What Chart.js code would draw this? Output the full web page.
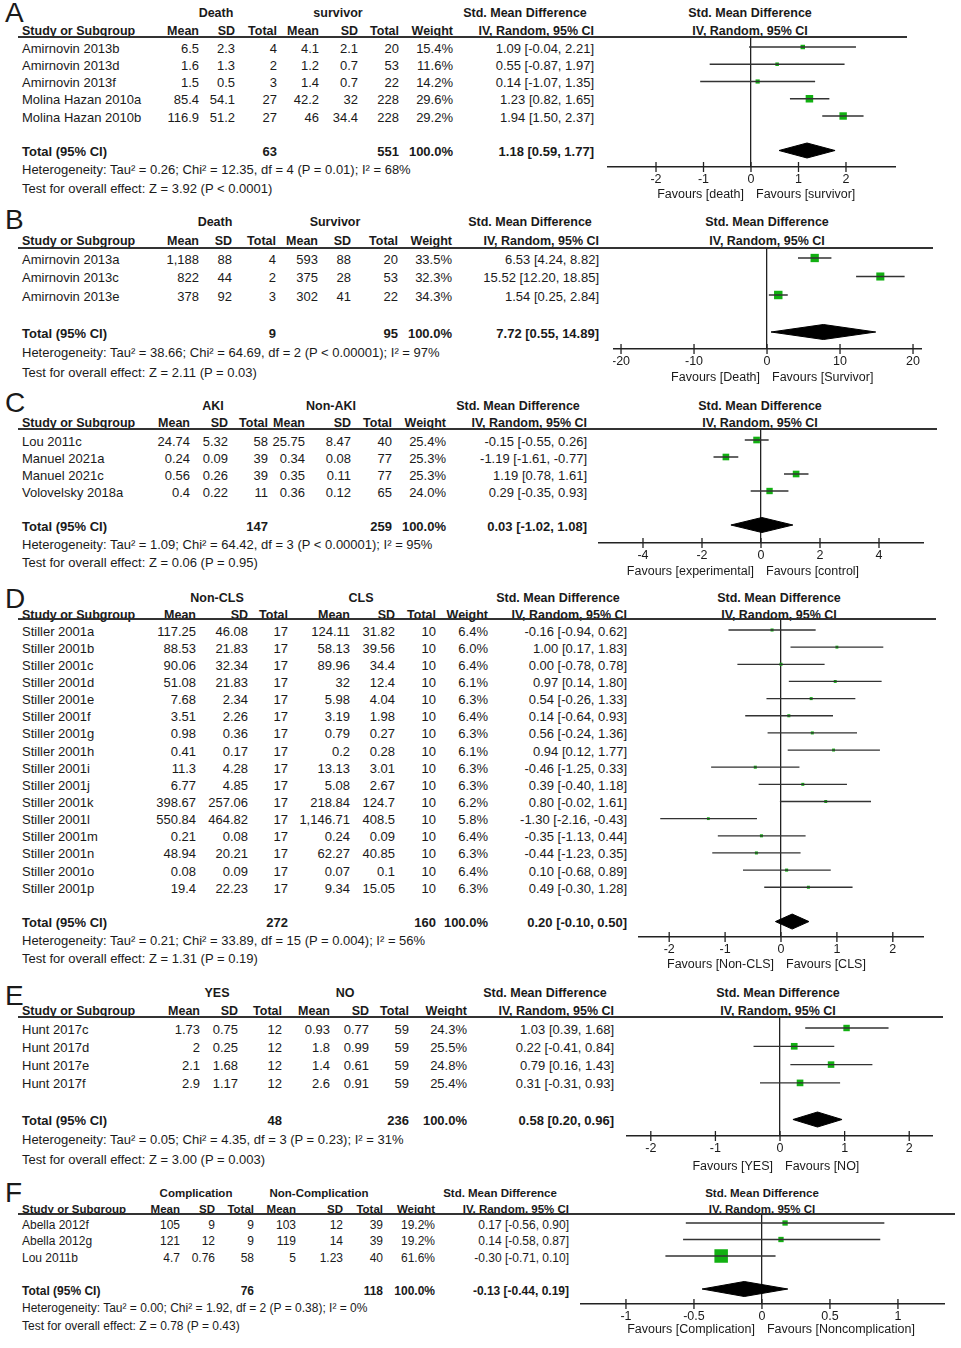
<!DOCTYPE html>
<html>
<head>
<meta charset="utf-8">
<script src="https://cdn.jsdelivr.net/npm/chart.js@4.4.1/dist/chart.umd.min.js"></script>
<style>
  html, body { margin: 0; padding: 0; background: #fff; }
  #page { position: relative; width: 961px; height: 1348px; overflow: hidden;
          font-family: "Liberation Sans", Arial, sans-serif; color: #1a1a1a; }
  .t { position: absolute; white-space: nowrap; line-height: 20px; }
  .b { font-weight: bold; }
  .rule { position: absolute; height: 2px; background: #333; }
  canvas { position: absolute; }
</style>
</head>
<body>
<div id="page"></div>
<script>
// ---------- A: death vs survivor
const aStudies = ['Amirnovin 2013b', 'Amirnovin 2013d', 'Amirnovin 2013f', 'Molina Hazan 2010a', 'Molina Hazan 2010b'];
const aGroups = ['Death', 'survivor'];
const aMean1 = [6.5, 1.6, 1.5, 85.4, 116.9];
const aSd1 = [2.3, 1.3, 0.5, 54.1, 51.2];
const aN1 = [4, 2, 3, 27, 27];
const aMean2 = [4.1, 1.2, 1.4, 42.2, 46];
const aSd2 = [2.1, 0.7, 0.7, 32, 34.4];
const aN2 = [20, 53, 22, 228, 228];
const aWeight = [15.4, 11.6, 14.2, 29.6, 29.2];
const aSmd = [1.09, 0.55, 0.14, 1.23, 1.94];
const aLo = [-0.04, -0.87, -1.07, 0.82, 1.50];
const aHi = [2.21, 1.97, 1.35, 1.65, 2.37];
const aTotal = [1.18, 0.59, 1.77];
const aTotalN = [63, 551];
const aTicks = [-2, -1, 0, 1, 2];
const aFavours = ['Favours [death]', 'Favours [survivor]'];
const aHet = 'Heterogeneity: Tau² = 0.26; Chi² = 12.35, df = 4 (P = 0.01); I² = 68%';
const aTest = 'Test for overall effect: Z = 3.92 (P < 0.0001)';

// ---------- B: Death vs Survivor
const bStudies = ['Amirnovin 2013a', 'Amirnovin 2013c', 'Amirnovin 2013e'];
const bGroups = ['Death', 'Survivor'];
const bMean1 = [1188, 822, 378];
const bSd1 = [88, 44, 92];
const bN1 = [4, 2, 3];
const bMean2 = [593, 375, 302];
const bSd2 = [88, 28, 41];
const bN2 = [20, 53, 22];
const bWeight = [33.5, 32.3, 34.3];
const bSmd = [6.53, 15.52, 1.54];
const bLo = [4.24, 12.20, 0.25];
const bHi = [8.82, 18.85, 2.84];
const bTotal = [7.72, 0.55, 14.89];
const bTotalN = [9, 95];
const bTicks = [-20, -10, 0, 10, 20];
const bFavours = ['Favours [Death]', 'Favours [Survivor]'];
const bHet = 'Heterogeneity: Tau² = 38.66; Chi² = 64.69, df = 2 (P < 0.00001); I² = 97%';
const bTest = 'Test for overall effect: Z = 2.11 (P = 0.03)';

// ---------- C: AKI vs Non-AKI
const cStudies = ['Lou 2011c', 'Manuel 2021a', 'Manuel 2021c', 'Volovelsky 2018a'];
const cGroups = ['AKI', 'Non-AKI'];
const cMean1 = [24.74, 0.24, 0.56, 0.4];
const cSd1 = [5.32, 0.09, 0.26, 0.22];
const cN1 = [58, 39, 39, 11];
const cMean2 = [25.75, 0.34, 0.35, 0.36];
const cSd2 = [8.47, 0.08, 0.11, 0.12];
const cN2 = [40, 77, 77, 65];
const cWeight = [25.4, 25.3, 25.3, 24.0];
const cSmd = [-0.15, -1.19, 1.19, 0.29];
const cLo = [-0.55, -1.61, 0.78, -0.35];
const cHi = [0.26, -0.77, 1.61, 0.93];
const cTotal = [0.03, -1.02, 1.08];
const cTotalN = [147, 259];
const cTicks = [-4, -2, 0, 2, 4];
const cFavours = ['Favours [experimental]', 'Favours [control]'];
const cHet = 'Heterogeneity: Tau² = 1.09; Chi² = 64.42, df = 3 (P < 0.00001); I² = 95%';
const cTest = 'Test for overall effect: Z = 0.06 (P = 0.95)';

// ---------- D: Non-CLS vs CLS
const dStudies = ['Stiller 2001a', 'Stiller 2001b', 'Stiller 2001c', 'Stiller 2001d', 'Stiller 2001e', 'Stiller 2001f',
  'Stiller 2001g', 'Stiller 2001h', 'Stiller 2001i', 'Stiller 2001j', 'Stiller 2001k', 'Stiller 2001l',
  'Stiller 2001m', 'Stiller 2001n', 'Stiller 2001o', 'Stiller 2001p'];
const dGroups = ['Non-CLS', 'CLS'];
const dMean1 = [117.25, 88.53, 90.06, 51.08, 7.68, 3.51, 0.98, 0.41, 11.3, 6.77, 398.67, 550.84, 0.21, 48.94, 0.08, 19.4];
const dSd1 = [46.08, 21.83, 32.34, 21.83, 2.34, 2.26, 0.36, 0.17, 4.28, 4.85, 257.06, 464.82, 0.08, 20.21, 0.09, 22.23];
const dN1 = [17, 17, 17, 17, 17, 17, 17, 17, 17, 17, 17, 17, 17, 17, 17, 17];
const dMean2 = [124.11, 58.13, 89.96, 32, 5.98, 3.19, 0.79, 0.2, 13.13, 5.08, 218.84, 1146.71, 0.24, 62.27, 0.07, 9.34];
const dSd2 = [31.82, 39.56, 34.4, 12.4, 4.04, 1.98, 0.27, 0.28, 3.01, 2.67, 124.7, 408.5, 0.09, 40.85, 0.1, 15.05];
const dN2 = [10, 10, 10, 10, 10, 10, 10, 10, 10, 10, 10, 10, 10, 10, 10, 10];
const dWeight = [6.4, 6.0, 6.4, 6.1, 6.3, 6.4, 6.3, 6.1, 6.3, 6.3, 6.2, 5.8, 6.4, 6.3, 6.4, 6.3];
const dSmd = [-0.16, 1.00, 0.00, 0.97, 0.54, 0.14, 0.56, 0.94, -0.46, 0.39, 0.80, -1.30, -0.35, -0.44, 0.10, 0.49];
const dLo = [-0.94, 0.17, -0.78, 0.14, -0.26, -0.64, -0.24, 0.12, -1.25, -0.40, -0.02, -2.16, -1.13, -1.23, -0.68, -0.30];
const dHi = [0.62, 1.83, 0.78, 1.80, 1.33, 0.93, 1.36, 1.77, 0.33, 1.18, 1.61, -0.43, 0.44, 0.35, 0.89, 1.28];
const dTotal = [0.20, -0.10, 0.50];
const dTotalN = [272, 160];
const dTicks = [-2, -1, 0, 1, 2];
const dFavours = ['Favours [Non-CLS]', 'Favours [CLS]'];
const dHet = 'Heterogeneity: Tau² = 0.21; Chi² = 33.89, df = 15 (P = 0.004); I² = 56%';
const dTest = 'Test for overall effect: Z = 1.31 (P = 0.19)';

// ---------- E: YES vs NO
const eStudies = ['Hunt 2017c', 'Hunt 2017d', 'Hunt 2017e', 'Hunt 2017f'];
const eGroups = ['YES', 'NO'];
const eMean1 = [1.73, 2, 2.1, 2.9];
const eSd1 = [0.75, 0.25, 1.68, 1.17];
const eN1 = [12, 12, 12, 12];
const eMean2 = [0.93, 1.8, 1.4, 2.6];
const eSd2 = [0.77, 0.99, 0.61, 0.91];
const eN2 = [59, 59, 59, 59];
const eWeight = [24.3, 25.5, 24.8, 25.4];
const eSmd = [1.03, 0.22, 0.79, 0.31];
const eLo = [0.39, -0.41, 0.16, -0.31];
const eHi = [1.68, 0.84, 1.43, 0.93];
const eTotal = [0.58, 0.20, 0.96];
const eTotalN = [48, 236];
const eTicks = [-2, -1, 0, 1, 2];
const eFavours = ['Favours [YES]', 'Favours [NO]'];
const eHet = 'Heterogeneity: Tau² = 0.05; Chi² = 4.35, df = 3 (P = 0.23); I² = 31%';
const eTest = 'Test for overall effect: Z = 3.00 (P = 0.003)';

// ---------- F: Complication vs Non-Complication
const fStudies = ['Abella 2012f', 'Abella 2012g', 'Lou 2011b'];
const fGroups = ['Complication', 'Non-Complication'];
const fMean1 = [105, 121, 4.7];
const fSd1 = [9, 12, 0.76];
const fN1 = [9, 9, 58];
const fMean2 = [103, 119, 5];
const fSd2 = [12, 14, 1.23];
const fN2 = [39, 39, 40];
const fWeight = [19.2, 19.2, 61.6];
const fSmd = [0.17, 0.14, -0.30];
const fLo = [-0.56, -0.58, -0.71];
const fHi = [0.90, 0.87, 0.10];
const fTotal = [-0.13, -0.44, 0.19];
const fTotalN = [76, 118];
const fTicks = [-1, -0.5, 0, 0.5, 1];
const fFavours = ['Favours [Complication]', 'Favours [Noncomplication]'];
const fHet = 'Heterogeneity: Tau² = 0.00; Chi² = 1.92, df = 2 (P = 0.38); I² = 0%';
const fTest = 'Test for overall effect: Z = 0.78 (P = 0.43)';

const GREEN = '#12b012';
const INK = '#1a1a1a';
const page = document.getElementById('page');

// layout of each panel (pixel positions only)
const panels = [
  { letter: 'A', studies: aStudies, groups: aGroups, m1: aMean1, sd1: aSd1, n1: aN1, m2: aMean2, sd2: aSd2, n2: aN2,
    w: aWeight, smd: aSmd, lo: aLo, hi: aHi, total: aTotal, totN: aTotalN, ticks: aTicks, fav: aFavours, het: aHet, test: aTest,
    lay: { letterY: 13, hdr: [13, 31], lineY: 37, lineEnd: 907, row0: 47, step: 17.25, axisY: 167, favY: 195,
           cols: [199, 235, 277, 319, 358, 399, 453, 594], grp: [216, 338], plot: [607, 896], xr: [-3.032, 3.053],
           hdrX: 750, font: 13, box: 0.5 } },
  { letter: 'B', studies: bStudies, groups: bGroups, m1: bMean1, sd1: bSd1, n1: bN1, m2: bMean2, sd2: bSd2, n2: bN2,
    w: bWeight, smd: bSmd, lo: bLo, hi: bHi, total: bTotal, totN: bTotalN, ticks: bTicks, fav: bFavours, het: bHet, test: bTest,
    lay: { letterY: 220, hdr: [222, 241], lineY: 248, lineEnd: 933, row0: 258, step: 18.5, axisY: 349, favY: 378,
           cols: [199, 232, 276, 318, 351, 398, 452, 599], grp: [215, 335], plot: [613, 922], xr: [-21.1, 21.23],
           hdrX: 767, font: 13, box: 0.5 } },
  { letter: 'C', studies: cStudies, groups: cGroups, m1: cMean1, sd1: cSd1, n1: cN1, m2: cMean2, sd2: cSd2, n2: cN2,
    w: cWeight, smd: cSmd, lo: cLo, hi: cHi, total: cTotal, totN: cTotalN, ticks: cTicks, fav: cFavours, het: cHet, test: cTest,
    lay: { letterY: 403, hdr: [406, 423], lineY: 429, lineEnd: 937, row0: 440, step: 17, axisY: 543, favY: 572,
           cols: [190, 228, 268, 305, 351, 392, 446, 587], grp: [213, 331], plot: [598, 924], xr: [-5.525, 5.525],
           hdrX: 760, font: 13, box: 0.5 } },
  { letter: 'D', studies: dStudies, groups: dGroups, m1: dMean1, sd1: dSd1, n1: dN1, m2: dMean2, sd2: dSd2, n2: dN2,
    w: dWeight, smd: dSmd, lo: dLo, hi: dHi, total: dTotal, totN: dTotalN, ticks: dTicks, fav: dFavours, het: dHet, test: dTest,
    lay: { letterY: 599, hdr: [598, 615], lineY: 619, lineEnd: 936, row0: 630, step: 17.15, axisY: 937, favY: 965,
           cols: [196, 248, 288, 350, 395, 436, 488, 627], grp: [217, 361], plot: [638, 924], xr: [-2.558, 2.558],
           hdrX: 779, font: 13, box: 0.69 } },
  { letter: 'E', studies: eStudies, groups: eGroups, m1: eMean1, sd1: eSd1, n1: eN1, m2: eMean2, sd2: eSd2, n2: eN2,
    w: eWeight, smd: eSmd, lo: eLo, hi: eHi, total: eTotal, totN: eTotalN, ticks: eTicks, fav: eFavours, het: eHet, test: eTest,
    lay: { letterY: 996, hdr: [993, 1011], lineY: 1017, lineEnd: 943, row0: 1028, step: 18.3, axisY: 1136, favY: 1167,
           cols: [200, 238, 282, 330, 369, 409, 467, 614], grp: [217, 345], plot: [626, 933], xr: [-2.384, 2.368],
           hdrX: 778, font: 13, box: 0.5 } },
  { letter: 'F', studies: fStudies, groups: fGroups, m1: fMean1, sd1: fSd1, n1: fN1, m2: fMean2, sd2: fSd2, n2: fN2,
    w: fWeight, smd: fSmd, lo: fLo, hi: fHi, total: fTotal, totN: fTotalN, ticks: fTicks, fav: fFavours, het: fHet, test: fTest,
    lay: { letterY: 1193, hdr: [1193, 1209], lineY: 1214, lineEnd: 955, row0: 1223, step: 16.5, axisY: 1304, favY: 1330,
           cols: [180, 215, 254, 296, 343, 383, 435, 569], grp: [196, 319], plot: [580, 945], xr: [-1.338, 1.346],
           hdrX: 762, font: 12, box: 0.5 } }
];

const fmt = v => v.toLocaleString('en-US', { maximumFractionDigits: 2 });
const ci = (e, l, h) => e.toFixed(2) + ' [' + l.toFixed(2) + ', ' + h.toFixed(2) + ']';

// put a text line with its vertical centre at y
function put(text, x, y, align, size, bold) {
  const el = document.createElement('div');
  el.className = 't' + (bold ? ' b' : '');
  el.textContent = text;
  el.style.fontSize = size + 'px';
  el.style.top = (y - 10) + 'px';
  if (align === 'left') {
    el.style.left = x + 'px';
  } else if (align === 'right') {
    el.style.left = (x - 400) + 'px'; el.style.width = '400px'; el.style.textAlign = 'right';
  } else {
    el.style.left = (x - 300) + 'px'; el.style.width = '600px'; el.style.textAlign = 'center';
  }
  page.appendChild(el);
}

function drawTable(p) {
  const L = p.lay, fs = L.font, hs = L.font - 0.5;
  put(p.letter, 5, L.letterY, 'left', 28, false);
  put(p.groups[0], L.grp[0], L.hdr[0], 'center', hs, true);
  put(p.groups[1], L.grp[1], L.hdr[0], 'center', hs, true);
  put('Std. Mean Difference', L.cols[7] - 69, L.hdr[0], 'center', hs, true);
  put('Std. Mean Difference', L.hdrX, L.hdr[0], 'center', hs, true);
  put('Study or Subgroup', 22, L.hdr[1], 'left', hs, true);
  const heads = ['Mean', 'SD', 'Total', 'Mean', 'SD', 'Total', 'Weight', 'IV, Random, 95% CI'];
  heads.forEach((h, i) => put(h, L.cols[i], L.hdr[1], 'right', hs, true));
  put('IV, Random, 95% CI', L.hdrX, L.hdr[1], 'center', hs, true);

  const rule = document.createElement('div');
  rule.className = 'rule';
  rule.style.left = '18px';
  rule.style.top = (L.lineY - 1) + 'px';
  rule.style.width = (L.lineEnd - 18) + 'px';
  page.appendChild(rule);

  const dy = 1.5;
  p.studies.forEach((s, i) => {
    const y = L.row0 + i * L.step + dy;
    put(s, 22, y, 'left', fs);
    const cells = [fmt(p.m1[i]), fmt(p.sd1[i]), p.n1[i], fmt(p.m2[i]), fmt(p.sd2[i]), p.n2[i],
                   p.w[i].toFixed(1) + '%', ci(p.smd[i], p.lo[i], p.hi[i])];
    cells.forEach((c, j) => put(String(c), L.cols[j], y, 'right', fs));
  });

  const ty = L.row0 + (p.studies.length + 1) * L.step + dy;
  put('Total (95% CI)', 22, ty, 'left', fs, true);
  put(String(p.totN[0]), L.cols[2], ty, 'right', fs, true);
  put(String(p.totN[1]), L.cols[5], ty, 'right', fs, true);
  put('100.0%', L.cols[6], ty, 'right', fs, true);
  put(ci(p.total[0], p.total[1], p.total[2]), L.cols[7], ty, 'right', fs, true);
  put(p.het, 22, ty + L.step + 1, 'left', fs);
  put(p.test, 22, ty + 2 * L.step + 2, 'left', fs);
}

// tick marks crossing the axis and the two "Favours" labels around zero
const forestDecor = {
  id: 'forestDecor',
  afterDraw(chart, args, opts) {
    const { ctx, chartArea } = chart;
    const x = chart.scales.x;
    const axisY = chartArea.bottom;
    ctx.save();
    ctx.strokeStyle = '#222';
    ctx.lineWidth = 1.3;
    x.ticks.forEach(t => {
      const px = x.getPixelForValue(t.value);
      ctx.beginPath();
      ctx.moveTo(px, axisY - 5);
      ctx.lineTo(px, axisY + 5);
      ctx.stroke();
    });
    const z = x.getPixelForValue(0);
    ctx.fillStyle = INK;
    ctx.font = '12.5px "Liberation Sans", Arial, sans-serif';
    ctx.textBaseline = 'middle';
    ctx.textAlign = 'right';
    ctx.fillText(opts.left, z - 7, opts.y);
    ctx.textAlign = 'left';
    ctx.fillText(opts.right, z + 5, opts.y);
    ctx.restore();
  }
};

function drawPlot(p) {
  const L = p.lay;
  const n = p.studies.length;
  const top = L.lineY;
  const w = L.plot[1] - L.plot[0];
  const h = L.favY + 10 - top;
  const canvas = document.createElement('canvas');
  canvas.width = w; canvas.height = h;
  canvas.style.left = L.plot[0] + 'px';
  canvas.style.top = top + 'px';
  canvas.style.width = w + 'px';
  canvas.style.height = h + 'px';
  page.appendChild(canvas);

  const ciData = [];
  p.lo.forEach((lo, i) => {
    ciData.push({ x: lo, y: i }, { x: p.hi[i], y: i }, { x: null, y: null });
  });
  const ty = n + 1;
  const dh = 7.5 / L.step;
  const [te, tl, th] = p.total;

  new Chart(canvas, {
    type: 'scatter',
    data: {
      datasets: [
        { type: 'line', data: ciData, borderColor: '#333', borderWidth: 1.3, pointRadius: 0, spanGaps: false },
        { type: 'scatter', data: p.smd.map((v, i) => ({ x: v, y: i })), pointStyle: 'rect',
          pointRadius: p.w.map(v => L.box * Math.pow(v, 0.8) / Math.SQRT2),
          backgroundColor: GREEN, borderWidth: 0 },
        { type: 'line', data: [{ x: tl, y: ty }, { x: te, y: ty - dh }, { x: th, y: ty }, { x: te, y: ty + dh }, { x: tl, y: ty }],
          fill: 'shape', backgroundColor: '#000', borderColor: '#000', borderWidth: 1, pointRadius: 0 }
      ]
    },
    options: {
      responsive: false,
      animation: false,
      events: [],
      layout: { padding: 0, autoPadding: false },
      plugins: {
        legend: { display: false },
        tooltip: { enabled: false },
        forestDecor: { left: p.fav[0], right: p.fav[1], y: L.favY - top }
      },
      scales: {
        x: {
          type: 'linear', position: 'bottom', min: L.xr[0], max: L.xr[1],
          afterBuildTicks: s => { s.ticks = p.ticks.map(v => ({ value: v })); },
          afterFit: s => { s.height = L.favY + 10 - L.axisY; s.paddingLeft = 0; s.paddingRight = 0; },
          ticks: { color: INK, padding: 5, maxRotation: 0, autoSkip: false,
                   font: { family: '"Liberation Sans", Arial, sans-serif', size: 12.5 },
                   callback: v => String(v) },
          grid: { drawTicks: false, lineWidth: 1.3,
                  color: c => (c.tick && c.tick.value === 0) ? '#222' : 'rgba(0,0,0,0)' },
          border: { display: true, color: '#222', width: 1.5 }
        },
        y: {
          type: 'linear', display: false, reverse: true,
          min: (L.lineY - L.row0) / L.step, max: (L.axisY - L.row0) / L.step,
          ticks: { display: false },
          afterFit: s => { s.paddingTop = 0; s.paddingBottom = 0; }
        }
      }
    },
    plugins: [forestDecor]
  });
}

panels.forEach(p => { drawTable(p); drawPlot(p); });
</script>
</body>
</html>
